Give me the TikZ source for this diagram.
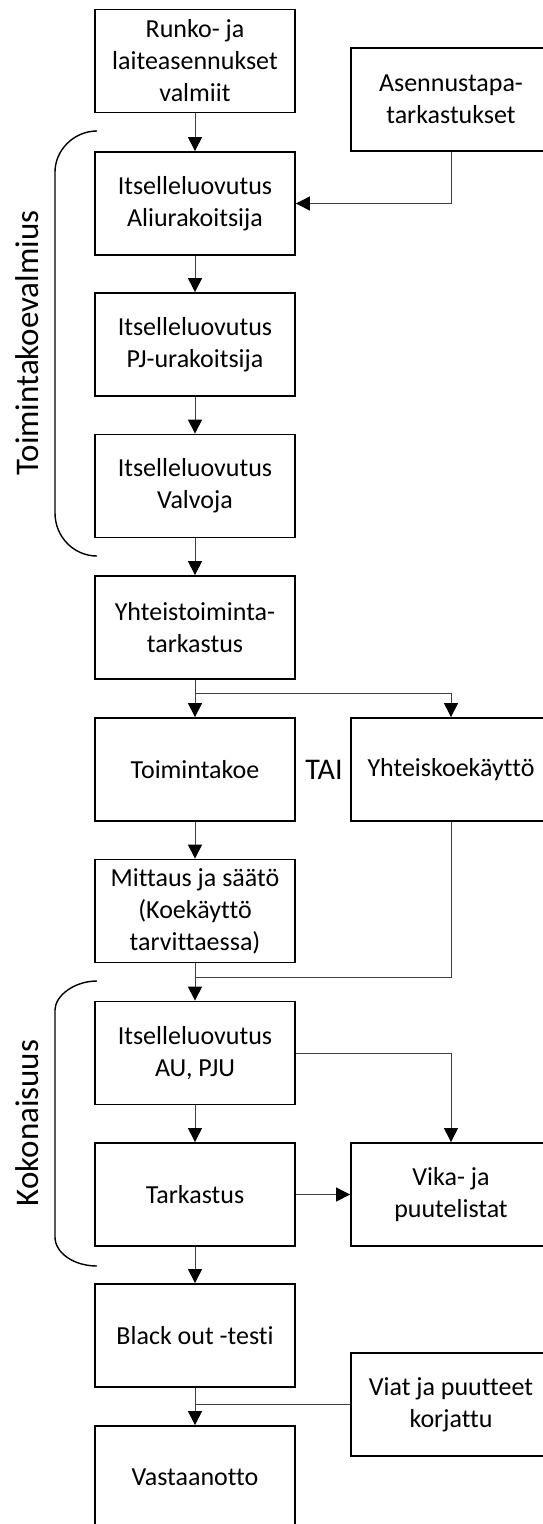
\documentclass[tikz,border=0pt]{standalone}
\usepackage{fontspec}
\setmainfont{Carlito}[Ligatures=NoCommon]
\usetikzlibrary{arrows.meta}

\begin{document}
\begin{tikzpicture}[x=1pt,y=-1pt,
  box/.style={draw=black, line width=1.8pt, minimum width=200pt, minimum height=103pt,
    inner sep=0pt, align=center, font=\fontsize{26}{32}\selectfont},
  conn/.style={line width=1pt, draw=black!75},
  flow/.style={conn, -{Triangle[length=14pt,width=14pt,color=black,fill=black]}},
  brace/.style={line width=1.4pt, draw=black},
  side/.style={rotate=90, font=\fontsize{33}{38}\selectfont, inner sep=0pt}]

\useasboundingbox (0,0) rectangle (543,1524);
\clip (0,0) rectangle (543,1524);

% left column
\node[box] (runko) at (195,61)     {Runko- ja\\laiteasennukset\\valmiit};
\node[box] (ali)   at (195,203.5)  {Itselleluovutus\\Aliurakoitsija};
\node[box] (pj)    at (195,344.5)  {Itselleluovutus\\PJ-urakoitsija};
\node[box] (valv)  at (195,486)    {Itselleluovutus\\Valvoja};
\node[box] (yht)   at (195,627.5)  {Yhteistoiminta-\\tarkastus};
\node[box] (toim)  at (195,769.5)  {Toimintakoe};
\node[box] (mitt)  at (195,911)    {Mittaus ja säätö\\(Koekäyttö\\tarvittaessa)};
\node[box] (au)    at (195,1053)   {Itselleluovutus\\AU, PJU};
\node[box] (tark)  at (195,1194.5) {Tarkastus};
\node[box] (black) at (195,1335.5) {Black out -testi};
\node[box] (vast)  at (195,1477.5) {Vastaanotto};

% right column
\node[box] (asen)  at (451,99.5)   {Asennustapa-\\tarkastukset};
\node[box] (yhtk)  at (451,769.5)  {Yhteiskoekäyttö};
\node[box] (vika)  at (451,1194.5) {Vika- ja\\puutelistat};
\node[box] (viat)  at (451,1404.5) {Viat ja puutteet\\korjattu};

\node[font=\fontsize{30}{36}\selectfont, inner sep=0pt] (tai) at (324,770) {TAI};

% group labels with their brackets
\node[side] (lblA) at (27,343)  {Toimintakoevalmius};
\node[side] (lblB) at (27,1123) {Kokonaisuus};
\draw[brace] (97,131) .. controls (74,131) and (55,150) .. (55,172) -- (55,513)
  .. controls (55,537) and (74,556) .. (97,556);
\draw[brace] (97,981) .. controls (74,981) and (55,996) .. (55,1010) -- (55,1237)
  .. controls (55,1253) and (74,1266) .. (97,1266);

% connectors
\coordinate (split) at (195,693);
\coordinate (merge) at (195,977);
\coordinate (join)  at (195,1404.5);

\draw[flow] (runko) -- (ali);
\draw[flow] (asen.south) |- (ali.east);
\draw[flow] (ali) -- (pj);
\draw[flow] (pj) -- (valv);
\draw[flow] (valv) -- (yht);
\draw[flow] (yht) -- (toim);
\draw[flow] (split) -| (yhtk.north);
\draw[flow] (toim) -- (mitt);
\draw[flow] (mitt) -- (au);
\draw[conn] (yhtk.south) |- (merge);
\draw[flow] (au.east) -| (vika.north);
\draw[flow] (au) -- (tark);
\draw[flow] (tark) -- (vika);
\draw[flow] (tark) -- (black);
\draw[flow] (black) -- (vast);
\draw[conn] (viat.west) -- (join);
\end{tikzpicture}
\end{document}
